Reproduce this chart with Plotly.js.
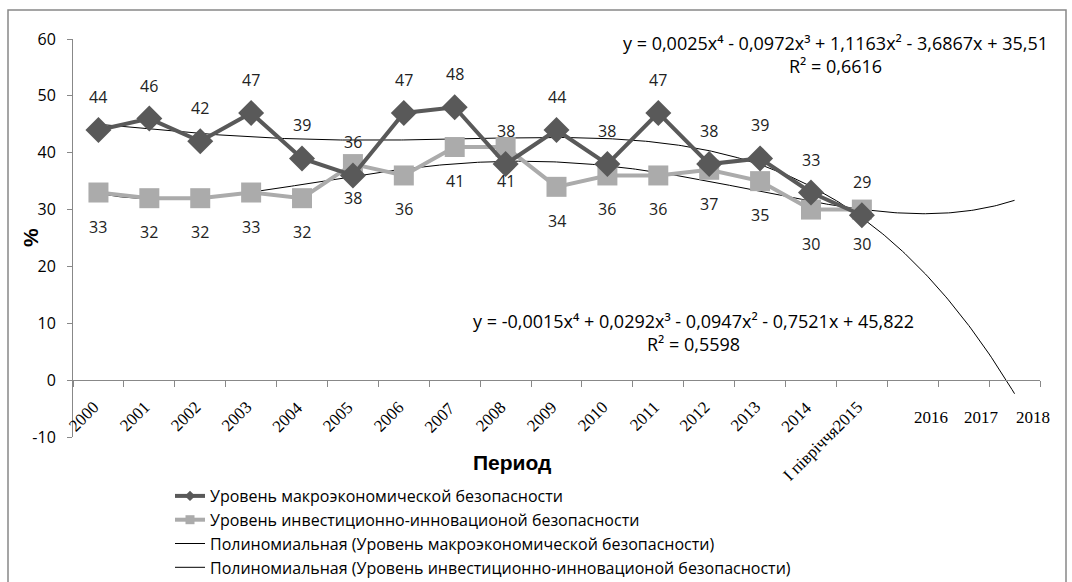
<!DOCTYPE html>
<html>
<head>
<meta charset="utf-8">
<script src="https://cdn.plot.ly/plotly-3.0.1.min.js"></script>
<style>html,body{margin:0;padding:0;background:#fff;}#chart{width:1072px;height:582px;}</style>
</head>
<body>
<div id="chart"></div>
<script>
// ---- data ----
const categories = ['2000','2001','2002','2003','2004','2005','2006','2007','2008','2009','2010','2011','2012','2013','2014','I півріччя2015','2016','2017','2018'];
const macroValues = [44,46,42,47,39,36,47,48,38,44,38,47,38,39,33,29];
const investValues = [33,32,32,33,32,38,36,41,41,34,36,36,37,35,30,30];
const yTickValues = [-10,0,10,20,30,40,50,60];
const yTickLabels = ['-10','0','10','20','30','40','50','60'];
const seriesNames = [
  'Уровень макроэкономической безопасности',
  'Уровень инвестиционно-инновационой безопасности',
  'Полиномиальная (Уровень макроэкономической безопасности)',
  'Полиномиальная (Уровень инвестиционно-инновационой безопасности)'
];
const equationA = ['y = 0,0025x⁴ - 0,0972x³ + 1,1163x² - 3,6867x + 35,51', 'R² = 0,6616'];
const equationB = ['y = -0,0015x⁴ + 0,0292x³ - 0,0947x² - 0,7521x + 45,822', 'R² = 0,5598'];
const forecastPeriods = 3;
const polyOrder = 4;

// ---- least squares polynomial trend (as in the spreadsheet trendline) ----
function polyfit(ys, deg) {
  const n = deg + 1;
  const A = [], b = [];
  for (let i = 0; i < n; i++) { A.push(new Array(n).fill(0)); b.push(0); }
  ys.forEach((y, k) => {
    const x = k + 1;
    for (let i = 0; i < n; i++) {
      for (let j = 0; j < n; j++) A[i][j] += Math.pow(x, i + j);
      b[i] += y * Math.pow(x, i);
    }
  });
  for (let c = 0; c < n; c++) {
    let p = c;
    for (let r = c + 1; r < n; r++) if (Math.abs(A[r][c]) > Math.abs(A[p][c])) p = r;
    [A[c], A[p]] = [A[p], A[c]]; [b[c], b[p]] = [b[p], b[c]];
    for (let r = c + 1; r < n; r++) {
      const f = A[r][c] / A[c][c];
      for (let k = c; k < n; k++) A[r][k] -= f * A[c][k];
      b[r] -= f * b[c];
    }
  }
  const coef = new Array(n).fill(0);
  for (let r = n - 1; r >= 0; r--) {
    let s = b[r];
    for (let k = r + 1; k < n; k++) s -= A[r][k] * coef[k];
    coef[r] = s / A[r][r];
  }
  return coef;
}
function trendLine(ys) {
  const coef = polyfit(ys, polyOrder);
  const xs = [], vs = [];
  const end = ys.length + forecastPeriods;
  for (let t = 1; t <= end + 1e-9; t += 0.05) {
    let v = 0;
    coef.forEach((c, i) => v += c * Math.pow(t, i));
    xs.push(t - 1); vs.push(v);
  }
  return {xs, vs};
}

const idx = macroValues.map((_, i) => i);
const macroTrend = trendLine(macroValues);
const investTrend = trendLine(investValues);

const DARK = '#595959', LIGHT = '#ababab';
const FONT = 'Open Sans, Noto Sans, sans-serif';
const SERIF = 'Liberation Serif, Times New Roman, serif';

// plot area in pixels (for placing free text)
const PL = 73, PR = 1040, PT = 39, PB = 437;
const px = v => (v - PL) / (PR - PL);
const py = v => (PB - v) / (PB - PT);

const traces = [
  {x: macroTrend.xs, y: macroTrend.vs, mode: 'lines', line: {color: '#000', width: 1}, showlegend: false, hoverinfo: 'skip'},
  {x: investTrend.xs, y: investTrend.vs, mode: 'lines', line: {color: '#000', width: 1}, showlegend: false, hoverinfo: 'skip'},
  {x: idx, y: investValues, mode: 'lines+markers', line: {color: LIGHT, width: 4},
   marker: {symbol: 'square', size: 20, color: LIGHT}, showlegend: false},
  {x: idx, y: macroValues, mode: 'lines+markers', line: {color: DARK, width: 4},
   marker: {symbol: 'diamond', size: 20, color: DARK}, showlegend: false},
  // legend entries
  {x: [null], y: [null], name: seriesNames[0], mode: 'lines+markers', line: {color: DARK, width: 4}, marker: {symbol: 'diamond', size: 8, color: DARK}},
  {x: [null], y: [null], name: seriesNames[1], mode: 'lines+markers', line: {color: LIGHT, width: 4}, marker: {symbol: 'square', size: 9, color: LIGHT}},
  {x: [null], y: [null], name: seriesNames[2], mode: 'lines', line: {color: '#000', width: 1}},
  {x: [null], y: [null], name: seriesNames[3], mode: 'lines', line: {color: '#000', width: 1}}
];

const annotations = [];
macroValues.forEach((v, i) => annotations.push({x: i, y: v, xref: 'x', yref: 'y', text: String(v), showarrow: false, yshift: 33, font: {family: FONT, size: 16, color: '#222'}}));
investValues.forEach((v, i) => annotations.push({x: i, y: v, xref: 'x', yref: 'y', text: String(v), showarrow: false, yshift: -34, font: {family: FONT, size: 16, color: '#222'}}));
// category labels
categories.forEach((c, i) => {
  if (i <= 15) {
    annotations.push({x: i, y: 0, xref: 'x', yref: 'y', text: c, showarrow: false, textangle: -45,
      xanchor: 'right', yanchor: 'top', xshift: 7, yshift: -15,
      font: {family: SERIF, size: 17, color: '#000'}});
  } else {
    annotations.push({x: i, y: 0, xref: 'x', yref: 'y', text: c, showarrow: false,
      xanchor: 'center', yanchor: 'middle', xshift: 18, yshift: -37,
      font: {family: SERIF, size: 17, color: '#000'}});
  }
});
// equations
annotations.push({xref: 'paper', yref: 'paper', x: px(835), y: py(54), xanchor: 'center', yanchor: 'middle', text: equationA.join('<br>'), showarrow: false, align: 'center', font: {family: FONT, size: 18, color: '#000'}});
annotations.push({xref: 'paper', yref: 'paper', x: px(693), y: py(332), xanchor: 'center', yanchor: 'middle', text: equationB.join('<br>'), showarrow: false, align: 'center', font: {family: FONT, size: 18, color: '#000'}});
// axis titles
annotations.push({xref: 'paper', yref: 'paper', x: px(30), y: py(238), xanchor: 'center', yanchor: 'middle', text: '<b>%</b>', textangle: -90, showarrow: false, font: {family: 'Liberation Sans, Arial, sans-serif', size: 21, color: '#000'}});
annotations.push({xref: 'paper', yref: 'paper', x: px(512), y: py(462), xanchor: 'center', yanchor: 'middle', text: '<b>Период</b>', showarrow: false, font: {family: 'Liberation Sans, Arial, sans-serif', size: 21, color: '#000'}});

const boundaries = categories.map((_, i) => i - 0.5).concat([categories.length - 0.5]);

const layout = {
  width: 1072, height: 582,
  margin: {l: PL, r: 1072 - PR, t: PT, b: 582 - PB, autoexpand: false},
  paper_bgcolor: '#fff', plot_bgcolor: '#fff',
  showlegend: true,
  legend: {x: px(170), y: py(479), xanchor: 'left', yanchor: 'top', bgcolor: 'rgba(0,0,0,0)',
    font: {family: FONT, size: 16, color: '#000'}, tracegroupgap: 0, itemwidth: 30},
  xaxis: {range: [-0.5, categories.length - 0.5], anchor: 'free', position: 10 / 70,
    showgrid: false, zeroline: false, showline: true, linecolor: '#888', linewidth: 1,
    tickmode: 'array', tickvals: boundaries, ticks: 'outside', ticklen: 6, tickcolor: '#888',
    showticklabels: false, fixedrange: true},
  yaxis: {range: [-10, 60], tickmode: 'array', tickvals: yTickValues, ticktext: yTickLabels,
    showgrid: false, zeroline: false,
    showline: true, linecolor: '#888', linewidth: 1, ticks: 'outside', ticklen: 5, tickcolor: '#888',
    ticklabelstandoff: 8,
    tickfont: {family: FONT, size: 16, color: '#000'}, fixedrange: true},
  annotations: annotations,
  shapes: [{type: 'rect', xref: 'paper', yref: 'paper', x0: px(8), x1: px(1066),
    y0: -0.5, y1: py(10), line: {color: '#888', width: 1.5}, fillcolor: 'rgba(0,0,0,0)'}]
};

Plotly.newPlot('chart', traces, layout, {displayModeBar: false, staticPlot: true});
</script>
</body>
</html>
